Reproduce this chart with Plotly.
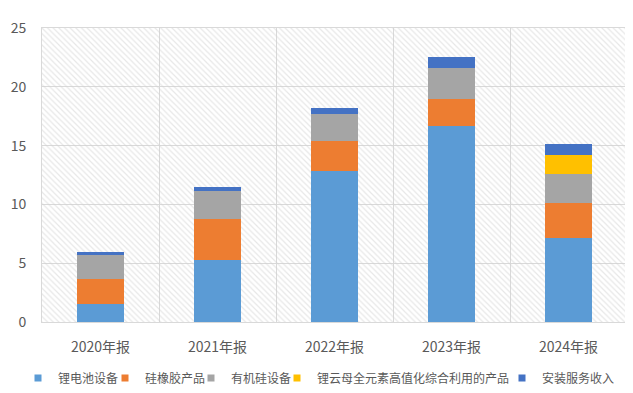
import plotly.graph_objects as go

categories = ["2020年报", "2021年报", "2022年报", "2023年报", "2024年报"]
series_names = ["锂电池设备", "硅橡胶产品", "有机硅设备", "锂云母全元素高值化综合利用的产品", "安装服务收入"]
lithium_equipment = [1.50, 5.27, 12.84, 16.64, 7.11]
silicone_rubber = [2.15, 3.46, 2.55, 2.30, 2.98]
organosilicon_equipment = [2.05, 2.38, 2.27, 2.69, 2.52]
lepidolite_products = [0, 0, 0, 0, 1.62]
installation_service = [0.25, 0.39, 0.56, 0.87, 0.88]
colors = ["#5B9BD5", "#ED7D31", "#A5A5A5", "#FFC000", "#4472C4"]
y_ticks = [0, 5, 10, 15, 20, 25]

values = [lithium_equipment, silicone_rubber, organosilicon_equipment, lepidolite_products, installation_service]

# legend entry left edges (px, figure coords)
legend_x_px = [10, 97, 183, 269, 494]

W, H = 625, 385
fig = go.Figure()

# hatched plot-area background (decorative)
fig.add_trace(go.Bar(
    x=[0.5], y=[1], width=[1], xaxis="x", yaxis="y",
    marker=dict(color="rgba(0,0,0,0)", line=dict(width=0),
                pattern=dict(shape="\\", fgcolor="#D0D0D0", bgcolor="rgba(0,0,0,0)",
                             size=4, solidity=0.3, fillmode="overlay")),
    showlegend=False, hoverinfo="skip",
))

legend_names = ["legend", "legend2", "legend3", "legend4", "legend5"]
for i, (name, vals, c) in enumerate(zip(series_names, values, colors)):
    fig.add_trace(go.Bar(
        x=categories, y=vals, name=name, xaxis="x2", yaxis="y2",
        marker=dict(color=c, line=dict(width=0)), showlegend=False,
    ))
    # legend entry with a small square swatch
    fig.add_trace(go.Scatter(
        x=[None], y=[None], name=name, mode="markers", xaxis="x2", yaxis="y2",
        marker=dict(symbol="square", size=7, color=c), legend=legend_names[i],
        showlegend=True,
    ))

font = "Noto Sans CJK SC, Liberation Sans, sans-serif"
layout = dict(
    width=W, height=H,
    margin=dict(l=34, r=6, t=20, b=71, autoexpand=False),
    paper_bgcolor="white", plot_bgcolor="white",
    barmode="stack", bargap=0.6,
    font=dict(family=font, color="#595959", size=13),
    xaxis=dict(range=[0, 1], visible=False, fixedrange=True),
    yaxis=dict(range=[0, 1], visible=False, fixedrange=True),
    xaxis2=dict(overlaying="x", side="bottom", type="category", range=[-0.5, 4.5],
                tickson="boundaries", showgrid=True, gridcolor="#D9D9D9", gridwidth=1,
                showline=True, linecolor="#D9D9D9", mirror=True, ticks="",
                ticklabelstandoff=12,
                tickfont=dict(size=14, color="#595959"), anchor="y2"),
    yaxis2=dict(overlaying="y", side="left", range=[0, 25], tickvals=y_ticks,
                showgrid=True, gridcolor="#D9D9D9", gridwidth=1,
                showline=True, linecolor="#D9D9D9", mirror=True, ticks="",
                ticklabelstandoff=12,
                zeroline=False, tickfont=dict(size=14, color="#595959"), anchor="x2"),
)
for ln, px in zip(legend_names, legend_x_px):
    layout[ln] = dict(orientation="h", xref="container", yref="container",
                      x=px / W, xanchor="left", y=15 / H, yanchor="middle",
                      font=dict(size=12, color="#595959"), itemwidth=30,
                      bgcolor="rgba(0,0,0,0)")
fig.update_layout(**layout)

fig.write_html("out.html")
